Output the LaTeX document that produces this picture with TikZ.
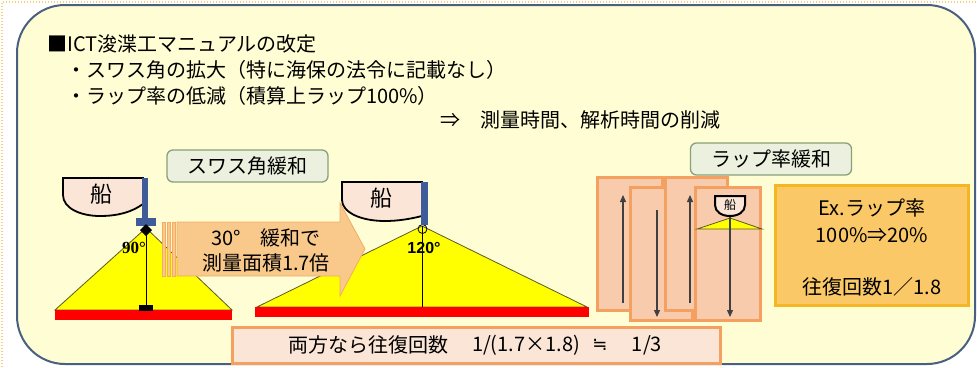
\documentclass[tikz,border=0pt]{standalone}
\usepackage{fontspec}
\newfontfamily\jp{Noto Sans CJK JP}
\newfontfamily\lsans{Liberation Sans}
\newfontfamily\lserif{Liberation Serif}
\newfontfamily\dejavu{DejaVu Sans}
\usetikzlibrary{arrows.meta}
\definecolor{panelfill}{HTML}{FFFDD3}
\definecolor{panelborder}{HTML}{4A6080}
\definecolor{dotc}{HTML}{F5D27A}
\definecolor{greenfill}{HTML}{EBF1DE}
\definecolor{greenborder}{HTML}{8AA07A}
\definecolor{shipfill}{HTML}{FBE5D6}
\definecolor{poleblue}{HTML}{3E5C9A}
\definecolor{yel}{HTML}{FFFF00}
\definecolor{triedge}{HTML}{5A5A2A}
\definecolor{redbar}{HTML}{FF0000}
\definecolor{arrowfill}{HTML}{F9C98B}
\definecolor{arrowedge}{HTML}{F2AC64}
\definecolor{stripfill}{HTML}{F8CBAD}
\definecolor{stripedge}{HTML}{F4A060}
\definecolor{infofill}{HTML}{FAC866}
\definecolor{infoedge}{HTML}{F5B623}
\definecolor{arrowdark}{HTML}{404040}
\tikzset{
  jptext/.style={font=\jp\fontsize{20}{25}\selectfont, inner sep=0pt, text=black},
  greenlabel/.style={jptext, draw=greenborder, fill=greenfill, line width=1.3pt, rounded corners=6pt, minimum width=161pt, minimum height=32pt},
  shipshape/.style={draw=black, line width=1.8pt, fill=shipfill},
  tri/.style={draw=triedge, line width=0.8pt, fill=yel},
  strip/.style={draw=stripedge, fill=stripfill, line width=3pt},
  lanearrow/.style={draw=arrowdark, line width=1.3pt, -{Triangle[length=7pt,width=6pt]}},
}
\begin{document}
\begin{tikzpicture}[x=1pt,y=-1pt]
\useasboundingbox (0,0) rectangle (977,367);
\fill[white] (0,0) rectangle (977,367);
% dotted outer edge
\draw[dotc, line width=1.5pt, dash pattern=on 1pt off 2pt] (2,367) -- (2,2) -- (977,2);
% panel
\draw[panelborder, line width=2pt, fill=panelfill, rounded corners=48pt] (17,5) rectangle (975,364);

% header text
\node[jptext, anchor=west] (t1) at (47,44) {■ICT浚渫工マニュアルの改定};
\node[jptext, anchor=west] (t2) at (66,70) {・スワス角の拡大（特に海保の法令に記載なし）};
\node[jptext, anchor=west] (t3) at (66,96) {・ラップ率の低減（積算上ラップ100\%）};
\node[jptext, anchor=west] (t4) at (440,120) {⇒　測量時間、解析時間の削減};

% labels
\node[greenlabel] (lab1) at (247.5,166) {スワス角緩和};
\node[greenlabel] (lab2) at (771,159) {ラップ率緩和};

% ---- left: 90 deg swath
\draw[tri] (146,228) -- (232,310) -- (55,310) -- cycle;
\fill[redbar] (55,310) rectangle (232,320);
\draw[black, line width=1pt] (146,230) -- (146,308);
\fill[black] (139,305) rectangle (153,311);
\draw[shipshape] (63,178) -- (143,178) -- (143,204) .. controls (132,212) and (118,216) .. (100,216) .. controls (80,216) and (63,208) .. (63,195) -- cycle;
\node[font=\jp\fontsize{22}{22}\selectfont, inner sep=0pt] (ship1) at (101,194) {船};
\fill[poleblue] (142,178) rectangle (148,219);
\fill[poleblue] (136,218) rectangle (156,226);
\fill[black] (146,224) -- (152,230) -- (146,236) -- (140,230) -- cycle;
\node[font=\lserif\bfseries\fontsize{17}{17}\selectfont, inner sep=0pt] (deg90) at (134,248) {90°};

% ---- middle: 120 deg swath
\draw[tri] (422,226) -- (587,307) -- (257,307) -- cycle;
\fill[redbar] (255,307) rectangle (589,317);
\draw[black, line width=0.8pt] (422,226) -- (422,307);
\draw[black, line width=0.8pt] (422.5,229) circle (4.5);
\draw[shipshape] (342,182) -- (422,182) -- (422,216) .. controls (410,219) and (398,221) .. (385,221) .. controls (360,221) and (342,212) .. (342,200) -- cycle;
\node[font=\jp\fontsize{22}{22}\selectfont, inner sep=0pt] (ship2) at (381,198) {船};
\fill[poleblue] (421,182) rectangle (428,225);
\node[font=\lsans\bfseries\fontsize{16}{16}\selectfont, inner sep=0pt] (deg120) at (424,248) {120°};

% ---- block arrow
\foreach \xa in {162,167,172}{
  \draw[arrowedge, fill=arrowfill, line width=0.6pt] (\xa,222) rectangle (\xa+3,276);
}
\draw[arrowedge, fill=arrowfill, line width=0.8pt] (177,222) -- (340,222) -- (340,203) -- (365,249) -- (340,296) -- (340,276) -- (177,276) -- cycle;
\node[jptext, align=center] (arrtext) at (266,250) {30°　緩和で\\[0pt]測量面積1.7倍};

% ---- lap strips
\draw[strip] (597,177) rectangle (662,310);
\draw[strip] (630,187) rectangle (692,320);
\draw[strip] (665,177) rectangle (727,310);
\draw[strip] (695,187) rectangle (760,320);
\coordinate (a1s) at (623,303); \coordinate (a1e) at (623,195);
\coordinate (a2s) at (657,210); \coordinate (a2e) at (657,317);
\coordinate (a3s) at (690,303); \coordinate (a3e) at (690,195);
\draw[tri] (730,218) -- (762,229) -- (697,229) -- cycle;
\draw[shipshape, line width=2pt] (715,196) -- (745,196) -- (745,205) .. controls (745,212) and (738,216) .. (730,216) .. controls (722,216) and (715,212) .. (715,205) -- cycle;
\node[font=\jp\fontsize{12}{12}\selectfont, inner sep=0pt] (ship3) at (730,205) {船};
\coordinate (a4s) at (730,217); \coordinate (a4e) at (730,317);
\draw[lanearrow] (a1s) -- (a1e);
\draw[lanearrow] (a2s) -- (a2e);
\draw[lanearrow] (a3s) -- (a3e);
\draw[lanearrow] (a4s) -- (a4e);

% ---- info box
\draw[draw=infoedge, fill=infofill, line width=3pt] (775,185) rectangle (968,305);
\node[jptext] (i1) at (872,208) {Ex.ラップ率};
\node[jptext] (i2) at (872,235) {100\%⇒20\%};
\node[jptext] (i3) at (872,287) {往復回数1／1.8};

% ---- bottom summary
\draw[draw=stripedge, fill=shipfill, line width=3pt] (232,327) rectangle (720,363);
\node[jptext, anchor=west] (b1) at (288,345) {両方なら往復回数};
\node[jptext] (b2) at (526,345) {1/(1.7×1.8)};
\node[jptext, font=\dejavu\fontsize{18}{20}\selectfont] (b3) at (600,345) {≒};
\node[jptext] (b4) at (647,345) {1/3};
\end{tikzpicture}
\end{document}
